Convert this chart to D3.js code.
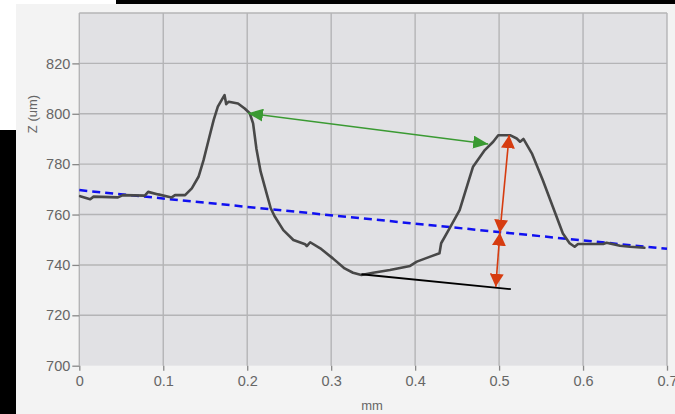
<!DOCTYPE html>
<html>
<head>
<meta charset="utf-8">
<script src="https://cdn.jsdelivr.net/npm/d3@7"></script>
<style>
  body { margin: 0; background: #fff; }
  svg { display: block; }
  text { font-family: "Liberation Sans", Arial, sans-serif; }
</style>
</head>
<body>
<div id="chart"></div>
<script>
// profile trace (mm, um)
let profileX = [0.001, 0.013, 0.017, 0.046, 0.052, 0.078, 0.082, 0.094, 0.110, 0.114, 0.126, 0.134,
  0.142, 0.148, 0.154, 0.160, 0.165, 0.170, 0.173, 0.175, 0.178, 0.189, 0.197, 0.203, 0.207,
  0.211, 0.216, 0.223, 0.228, 0.233, 0.243, 0.255, 0.269, 0.271, 0.275, 0.287, 0.302, 0.316,
  0.326, 0.336, 0.350, 0.370, 0.394, 0.402, 0.418, 0.429, 0.431, 0.441, 0.453, 0.464, 0.469,
  0.483, 0.493, 0.499, 0.513, 0.521, 0.525, 0.529, 0.539, 0.552, 0.564, 0.576, 0.584, 0.590,
  0.594, 0.624, 0.628, 0.644, 0.656, 0.673];
let profileZ = [767.3, 766.1, 767.1, 766.8, 767.7, 767.5, 769.0, 768.0, 766.8, 767.7, 767.7, 770.4,
  775.0, 781.6, 789.6, 797.5, 802.8, 805.7, 807.4, 803.8, 804.8, 804.1, 802.1, 800.2, 796.2,
  786.0, 777.0, 768.5, 762.5, 759.1, 753.8, 749.9, 748.2, 747.5, 749.0, 746.6, 742.6, 738.6,
  736.9, 736.0, 736.9, 738.0, 739.6, 741.3, 743.3, 744.6, 748.6, 754.5, 761.8, 773.7, 779.0,
  785.6, 788.9, 791.5, 791.5, 790.2, 788.9, 790.0, 784.3, 773.7, 763.1, 752.5, 748.6, 747.2,
  748.3, 748.3, 748.8, 747.6, 747.2, 746.8];

let xTicks = [0, 0.1, 0.2, 0.3, 0.4, 0.5, 0.6, 0.7];
let yTicks = [700, 720, 740, 760, 780, 800, 820];

// annotations, as [mm, um] pairs
let trendLine = [[0, 769.7], [0.7, 746.4]];
let valleyLine = [[0.336, 736.3], [0.514, 730.4]];
let peakArrow = [[0.201, 800.2], [0.487, 788.0]];
let heightArrow = [[0.501, 752.8], [0.512, 791.5]];
let depthArrow = [[0.501, 752.8], [0.496, 731.3]];

let svg = d3.select("#chart").append("svg")
  .attr("width", 675).attr("height", 414);

let x = d3.scaleLinear().domain([0, 0.7]).range([79.3, 667]);
let y = d3.scaleLinear().domain([700, 840]).range([365.7, 13]);

// screenshot frame
svg.append("rect").attr("x", 0).attr("y", 0).attr("width", 675).attr("height", 414).attr("fill", "#fff");
svg.append("rect").attr("x", 16).attr("y", 4).attr("width", 659).attr("height", 410).attr("fill", "#f3f3f3");
svg.append("rect").attr("x", 116).attr("y", 0).attr("width", 559).attr("height", 4).attr("fill", "#000");
svg.append("rect").attr("x", 0).attr("y", 130).attr("width", 16).attr("height", 284).attr("fill", "#000");

// plot area
svg.append("rect")
  .attr("x", x(0)).attr("y", y(840))
  .attr("width", x(0.7) - x(0)).attr("height", y(700) - y(840))
  .attr("fill", "#e1e1e4");

// grid
svg.append("g").selectAll("line").data(xTicks.slice(1)).enter().append("line")
  .attr("x1", d => x(d)).attr("x2", d => x(d))
  .attr("y1", y(840)).attr("y2", y(700))
  .attr("stroke", "#b4b4b6").attr("stroke-width", 1.4);
svg.append("g").selectAll("line").data(yTicks.slice(1).concat([840])).enter().append("line")
  .attr("x1", x(0)).attr("x2", x(0.7))
  .attr("y1", d => y(d)).attr("y2", d => y(d))
  .attr("stroke", "#b4b4b6").attr("stroke-width", 1.4);
svg.append("line")
  .attr("x1", x(0)).attr("x2", x(0)).attr("y1", y(840)).attr("y2", y(700))
  .attr("stroke", "#b4b4b6").attr("stroke-width", 1.4);

// axes
let yAxis = svg.append("g")
  .attr("transform", "translate(" + x(0) + ",0)")
  .call(d3.axisLeft(y).tickValues(yTicks).tickSize(7).tickPadding(2));
let xAxis = svg.append("g")
  .attr("transform", "translate(0," + y(700) + ")")
  .call(d3.axisBottom(x).tickValues(xTicks).tickFormat(d3.format("")).tickSize(5).tickPadding(5));
[yAxis, xAxis].forEach(function (a) {
  a.select(".domain").remove();
  a.selectAll("line").attr("stroke", "#888").attr("stroke-width", 1.3);
  a.selectAll("text").attr("fill", "#666").style("font-size", "14.5px");
});

svg.append("text")
  .attr("x", 372).attr("y", 410)
  .attr("text-anchor", "middle")
  .attr("fill", "#666").style("font-size", "13px")
  .text("mm");
svg.append("text")
  .attr("transform", "translate(37,114) rotate(-90)")
  .attr("text-anchor", "middle")
  .attr("fill", "#666").style("font-size", "13px")
  .text("Z (um)");

// arrow markers
let defs = svg.append("defs");
function marker(id, color, len, half) {
  defs.append("marker")
    .attr("id", id)
    .attr("markerUnits", "userSpaceOnUse")
    .attr("viewBox", "0 " + (-half) + " " + len + " " + (2 * half))
    .attr("refX", len).attr("refY", 0)
    .attr("markerWidth", len).attr("markerHeight", 2 * half)
    .attr("orient", "auto-start-reverse")
    .append("path")
    .attr("d", "M0," + (-half) + "L" + len + ",0L0," + half + "Z")
    .attr("fill", color);
}
marker("greenHead", "#3a9a32", 15, 6.5);
marker("redHead", "#d63c10", 13, 7);

let line = d3.line().x(d => x(d[0])).y(d => y(d[1]));

// trend line
svg.append("path")
  .attr("d", line(trendLine))
  .attr("fill", "none")
  .attr("stroke", "#1010f0").attr("stroke-width", 2.5)
  .attr("stroke-dasharray", "8,5");

// profile
svg.append("path")
  .attr("d", line(profileX.map((d, i) => [d, profileZ[i]])))
  .attr("fill", "none")
  .attr("stroke", "#484848").attr("stroke-width", 2.6)
  .attr("stroke-linejoin", "round").attr("stroke-linecap", "round");

svg.append("path")
  .attr("d", line(valleyLine))
  .attr("fill", "none").attr("stroke", "#000").attr("stroke-width", 1.8);

svg.append("path")
  .attr("d", line(peakArrow))
  .attr("fill", "none").attr("stroke", "#3a9a32").attr("stroke-width", 1.6)
  .attr("marker-start", "url(#greenHead)").attr("marker-end", "url(#greenHead)");

[heightArrow, depthArrow].forEach(function (a) {
  svg.append("path")
    .attr("d", line(a))
    .attr("fill", "none").attr("stroke", "#d63c10").attr("stroke-width", 1.6)
    .attr("marker-start", "url(#redHead)").attr("marker-end", "url(#redHead)");
});
</script>
</body>
</html>
